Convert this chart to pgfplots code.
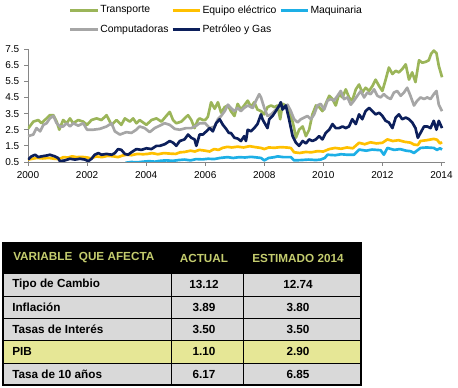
\documentclass[border=0pt]{standalone}
\usepackage{pgfplots}
\pgfplotsset{compat=1.18}
\usepackage{fontspec}
\setmainfont{Liberation Sans}
\definecolor{cTr}{RGB}{155,181,89}
\definecolor{cEq}{RGB}{255,192,0}
\definecolor{cMa}{RGB}{29,175,230}
\definecolor{cCo}{RGB}{166,166,166}
\definecolor{cPe}{RGB}{12,31,91}
\definecolor{axgrey}{RGB}{134,134,134}
\definecolor{hdtext}{RGB}{196,204,110}
\definecolor{rowgrey}{RGB}{217,217,217}
\definecolor{pibrow}{RGB}{230,231,150}
\begin{document}
\begin{tikzpicture}
\path[use as bounding box] (0pt,0pt) rectangle (343.5pt,-291pt);
\begin{axis}[
  at={(21pt,-121.5pt)}, anchor=south west,
  scale only axis, width=312.75pt, height=84.75pt,
  xmin=2000, xmax=2014.12, ymin=0.5, ymax=7.5,
  axis lines=left,
  axis line style={-, draw=axgrey, line width=0.6pt},
  tick align=outside, major tick length=3pt,
  tick style={draw=axgrey, line width=0.6pt},
  xtick={2000,2002,2004,2006,2008,2010,2012,2014},
  xticklabels={2000,2002,2004,2006,2008,2010,2012,2014},
  ytick={0.5,1.5,2.5,3.5,4.5,5.5,6.5,7.5},
  yticklabels={0.5,1.5,2.5,3.5,4.5,5.5,6.5,7.5},
  tick label style={font=\fontsize{7.5}{9}\selectfont},
  xticklabel style={yshift=-0.8pt},
  no markers,
  every axis plot/.append style={line width=2pt, line join=round},
  legend columns=3,
  legend cell align=left,
  legend image code/.code={\draw[#1,line width=2pt] (0pt,0pt) -- (20.5pt,0pt);},
  legend style={draw=none, fill=none, at={(0.088,1.434)}, anchor=north west,
    font=\fontsize{7.8}{9}\selectfont, row sep=3pt,
    /tikz/every odd column/.style={column sep=-1pt},
    /tikz/every even column/.style={column sep=0pt}},
]
\addplot[color=cTr] coordinates {
(2000.00,2.56)(2000.18,3.0)(2000.35,3.1)(2000.46,2.9)(2000.57,3.1)(2000.74,3.4)(2000.86,3.4)(2000.97,3.0)
(2001.06,2.5)(2001.19,3.1)(2001.31,2.9)(2001.42,3.2)(2001.53,2.9)(2001.70,3.1)(2001.87,3.0)(2002.00,2.8)
(2002.15,3.1)(2002.32,3.2)(2002.49,3.1)(2002.66,3.4)(2002.83,2.8)(2003.00,3.1)(2003.16,2.8)(2003.28,3.2)
(2003.45,3.0)(2003.56,3.2)(2003.67,2.9)(2003.78,3.1)(2004.01,2.8)(2004.18,3.1)(2004.35,3.2)(2004.52,3.0)
(2004.68,3.35)(2004.80,3.6)(2004.91,3.1)(2005.02,2.9)(2005.19,3.0)(2005.30,3.2)(2005.42,3.4)(2005.53,3.1)
(2005.64,2.6)(2005.75,3.1)(2005.81,3.2)(2005.92,3.1)(2006.00,3.1)(2006.09,3.3)(2006.20,4.2)(2006.32,3.8)
(2006.43,4.2)(2006.54,3.55)(2006.66,3.9)(2006.77,4.0)(2006.87,3.65)(2006.99,3.35)(2007.10,4.1)(2007.21,3.75)
(2007.32,4.0)(2007.44,4.3)(2007.55,3.9)(2007.66,4.2)(2007.77,3.75)(2007.89,3.65)(2008.00,3.45)(2008.11,3.9)
(2008.23,4.0)(2008.34,3.9)(2008.45,4.0)(2008.54,3.15)(2008.62,4.1)(2008.73,4.0)(2008.84,3.55)(2008.96,3.0)
(2009.01,2.6)(2009.07,2.0)(2009.18,2.5)(2009.30,2.7)(2009.41,2.1)(2009.52,2.5)(2009.63,3.45)(2009.75,4.0)
(2009.86,3.9)(2009.97,3.65)(2010.08,4.1)(2010.20,4.6)(2010.31,4.4)(2010.42,4.0)(2010.53,4.7)(2010.65,4.5)
(2010.76,5.0)(2010.87,4.5)(2010.98,4.3)(2011.10,5.0)(2011.21,5.3)(2011.32,4.8)(2011.43,5.1)(2011.55,4.9)
(2011.66,5.2)(2011.77,5.6)(2011.89,5.2)(2012.00,4.9)(2012.11,5.6)(2012.22,6.35)(2012.34,5.95)(2012.45,6.15)
(2012.56,6.05)(2012.67,6.25)(2012.79,6.55)(2012.90,5.6)(2013.01,6.05)(2013.12,5.45)(2013.24,6.8)(2013.35,6.65)
(2013.46,6.7)(2013.57,6.8)(2013.65,7.2)(2013.74,7.4)(2013.83,7.25)(2013.91,6.45)(2014.02,5.75)
};
\addlegendentry{Transporte}
\addplot[color=cEq] coordinates {
(2000.00,0.65)(2000.15,0.7)(2000.30,0.75)(2000.50,0.72)(2000.70,0.75)(2000.90,0.7)(2001.05,0.68)(2001.20,0.8)
(2001.35,0.78)(2001.50,0.85)(2001.65,0.8)(2001.80,0.82)(2002.00,0.78)(2002.15,0.72)(2002.30,0.85)(2002.50,0.8)
(2002.70,0.88)(2002.90,0.85)(2003.05,0.8)(2003.20,0.9)(2003.35,0.95)(2003.50,0.92)(2003.70,1.0)(2003.90,0.98)
(2004.05,1.0)(2004.20,1.05)(2004.40,0.98)(2004.60,1.05)(2004.80,1.02)(2005.00,1.0)(2005.15,1.1)(2005.30,1.12)
(2005.50,1.2)(2005.65,1.15)(2005.80,1.25)(2006.00,1.2)(2006.15,1.15)(2006.30,1.3)(2006.45,1.25)(2006.60,1.38)
(2006.76,1.44)(2006.90,1.4)(2007.10,1.45)(2007.30,1.4)(2007.50,1.48)(2007.70,1.42)(2007.89,1.37)(2008.00,1.3)
(2008.15,1.4)(2008.35,1.38)(2008.55,1.42)(2008.75,1.4)(2008.90,1.37)(2009.01,1.1)(2009.20,1.06)(2009.40,1.12)
(2009.60,1.1)(2009.80,1.17)(2010.00,1.15)(2010.20,1.3)(2010.40,1.37)(2010.60,1.32)(2010.80,1.4)(2011.00,1.35)
(2011.21,1.69)(2011.40,1.6)(2011.60,1.72)(2011.80,1.65)(2012.00,1.69)(2012.17,1.9)(2012.35,1.8)(2012.55,1.85)
(2012.75,1.75)(2012.95,1.7)(2013.07,1.58)(2013.20,1.55)(2013.29,1.8)(2013.50,1.85)(2013.74,1.93)(2013.85,1.88)
(2013.95,1.65)(2014.02,1.73)
};
\addlegendentry{Equipo eléctrico}
\addplot[color=cMa] coordinates {
(2003.30,0.45)(2003.50,0.5)(2003.70,0.48)(2003.90,0.52)(2004.10,0.55)(2004.30,0.52)(2004.50,0.58)(2004.70,0.6)
(2004.90,0.57)(2005.10,0.62)(2005.30,0.65)(2005.50,0.6)(2005.70,0.68)(2005.90,0.66)(2006.10,0.7)(2006.30,0.68)
(2006.50,0.75)(2006.76,0.8)(2006.95,0.75)(2007.15,0.8)(2007.35,0.78)(2007.55,0.82)(2007.75,0.78)(2007.89,0.75)
(2008.00,0.6)(2008.15,0.75)(2008.35,0.8)(2008.45,0.85)(2008.65,0.8)(2008.90,0.8)(2009.01,0.6)(2009.25,0.62)
(2009.50,0.65)(2009.75,0.62)(2009.91,0.65)(2010.05,0.75)(2010.14,0.95)(2010.40,0.92)(2010.60,0.98)(2010.80,0.95)
(2011.04,0.95)(2011.21,1.27)(2011.45,1.2)(2011.65,1.27)(2011.94,1.23)(2012.05,0.95)(2012.17,1.37)(2012.40,1.25)
(2012.60,1.3)(2012.80,1.2)(2012.95,1.17)(2013.07,1.06)(2013.29,1.37)(2013.50,1.4)(2013.74,1.37)(2013.85,1.25)
(2013.95,1.35)(2014.02,1.27)
};
\addlegendentry{Maquinaria}
\addplot[color=cCo] coordinates {
(2000.00,2.1)(2000.18,2.2)(2000.29,2.6)(2000.41,2.4)(2000.52,2.8)(2000.63,2.9)(2000.74,3.2)(2000.86,3.35)
(2000.97,2.9)(2001.08,2.7)(2001.19,2.7)(2001.31,2.9)(2001.42,2.7)(2001.53,2.9)(2001.70,2.75)(2001.87,2.9)
(2002.00,2.5)(2002.21,2.5)(2002.43,2.55)(2002.66,2.7)(2002.83,2.9)(2002.94,2.4)(2003.11,2.2)(2003.33,2.35)
(2003.50,2.3)(2003.67,2.5)(2003.78,2.7)(2003.95,2.6)(2004.12,2.35)(2004.29,2.6)(2004.46,2.75)(2004.63,2.9)
(2004.80,2.8)(2004.97,2.55)(2005.14,2.5)(2005.36,2.6)(2005.53,2.6)(2005.70,2.75)(2005.81,2.9)(2006.00,2.9)
(2006.15,2.6)(2006.32,2.7)(2006.43,3.15)(2006.54,3.35)(2006.66,3.65)(2006.77,4.05)(2006.87,3.85)(2006.99,3.65)
(2007.10,3.85)(2007.21,3.65)(2007.32,3.85)(2007.44,4.0)(2007.61,3.85)(2007.72,4.3)(2007.83,4.7)(2007.89,4.5)
(2008.00,3.85)(2008.11,3.35)(2008.23,3.45)(2008.34,3.65)(2008.45,3.85)(2008.56,4.0)(2008.68,3.85)(2008.79,4.05)
(2008.90,3.65)(2009.01,3.15)(2009.13,2.95)(2009.24,3.15)(2009.35,3.25)(2009.46,3.35)(2009.58,3.15)(2009.69,3.45)
(2009.80,4.0)(2009.91,4.1)(2010.03,3.75)(2010.14,4.3)(2010.25,4.4)(2010.36,4.3)(2010.48,4.6)(2010.59,4.9)
(2010.70,4.4)(2010.82,4.5)(2010.93,4.05)(2011.04,4.3)(2011.15,4.6)(2011.27,4.9)(2011.38,4.5)(2011.49,4.8)
(2011.60,4.7)(2011.72,5.0)(2011.83,4.6)(2011.94,4.5)(2012.05,4.7)(2012.17,4.5)(2012.28,4.4)(2012.39,4.8)
(2012.50,4.9)(2012.62,4.6)(2012.73,4.8)(2012.84,5.1)(2012.95,4.6)(2013.07,4.0)(2013.18,4.3)(2013.29,4.5)
(2013.41,4.4)(2013.52,4.5)(2013.63,4.4)(2013.74,4.7)(2013.83,4.9)(2013.91,4.05)(2014.02,3.65)
};
\addlegendentry{Computadoras}
\addplot[color=cPe] coordinates {
(2000.00,0.65)(2000.12,0.85)(2000.24,0.95)(2000.35,0.8)(2000.46,0.85)(2000.63,0.9)(2000.74,0.95)(2000.91,0.85)
(2001.02,0.75)(2001.08,0.55)(2001.25,0.6)(2001.42,0.7)(2001.59,0.65)(2001.76,0.7)(2001.93,0.65)(2002.04,0.55)
(2002.15,0.7)(2002.26,0.95)(2002.38,1.05)(2002.49,0.95)(2002.66,1.0)(2002.83,0.95)(2002.94,1.05)(2003.05,1.3)
(2003.16,1.25)(2003.28,1.0)(2003.39,0.95)(2003.50,1.1)(2003.67,1.3)(2003.84,1.25)(2004.01,1.35)(2004.18,1.3)
(2004.35,1.5)(2004.46,1.5)(2004.63,1.6)(2004.80,1.8)(2004.91,1.7)(2005.02,1.5)(2005.14,1.8)(2005.30,1.9)
(2005.42,2.2)(2005.53,2.0)(2005.64,1.9)(2005.70,1.5)(2005.81,2.2)(2005.92,2.2)(2006.04,2.4)(2006.15,2.6)
(2006.26,2.4)(2006.37,2.9)(2006.49,3.15)(2006.60,2.8)(2006.71,2.55)(2006.80,2.3)(2006.87,2.3)(2006.99,2.0)
(2007.10,1.95)(2007.21,1.8)(2007.32,2.1)(2007.38,1.8)(2007.44,2.5)(2007.55,2.4)(2007.66,2.6)(2007.77,2.85)
(2007.89,3.45)(2007.94,3.15)(2008.00,2.95)(2008.11,2.6)(2008.17,3.15)(2008.28,3.35)(2008.39,3.65)(2008.51,4.0)
(2008.56,4.2)(2008.62,3.75)(2008.73,4.0)(2008.84,3.15)(2008.96,2.1)(2009.07,1.7)(2009.18,1.5)(2009.30,1.8)
(2009.41,1.65)(2009.52,1.9)(2009.63,1.8)(2009.75,1.9)(2009.86,2.1)(2009.97,1.9)(2010.08,2.3)(2010.20,2.5)
(2010.31,2.85)(2010.42,2.6)(2010.53,2.6)(2010.65,2.7)(2010.76,2.6)(2010.87,2.7)(2010.98,3.15)(2011.10,2.85)
(2011.21,3.45)(2011.32,3.15)(2011.43,3.65)(2011.55,3.85)(2011.66,3.65)(2011.77,3.45)(2011.89,3.55)(2012.00,3.35)
(2012.11,3.05)(2012.22,2.95)(2012.34,2.6)(2012.45,3.25)(2012.56,3.45)(2012.67,3.15)(2012.79,3.25)(2012.90,3.15)
(2013.01,2.95)(2013.12,2.6)(2013.20,2.0)(2013.29,2.3)(2013.41,2.7)(2013.52,2.7)(2013.63,2.6)(2013.74,3.05)
(2013.83,2.5)(2013.91,3.05)(2014.02,2.6)
};
\addlegendentry{Petróleo y Gas}
\end{axis}
\begin{scope}[x=0.75pt,y=-0.75pt]
\fill[black] (3,243) rectangle (361,273);
\fill[rowgrey] (3,273) rectangle (361,385);
\fill[pibrow] (3,340) rectangle (361,363);
\draw[black,line width=0.7pt] (3,273) -- (361,273) (3,296) -- (361,296) (3,318) -- (361,318)
  (3,340) -- (361,340) (3,363) -- (361,363) (171,273) -- (171,385) (243,273) -- (243,385);
\draw[black,line width=0.9pt] (3,243) rectangle (361,385);
\begin{scope}[every node/.style={inner sep=0pt, font=\fontsize{8.8}{10}\selectfont\bfseries}]
\node[anchor=west, text=hdtext] at (13,258) {VARIABLE\ \ QUE AFECTA};
\node[text=hdtext] at (204,258) {ACTUAL};
\node[text=hdtext] at (298,258) {ESTIMADO 2014};
\node[anchor=west] at (12,284.5) {Tipo de Cambio};
\node[anchor=west] at (12,307) {Inflación};
\node[anchor=west] at (12,329) {Tasas de Interés};
\node[anchor=west] at (12,351.5) {PIB};
\node[anchor=west] at (12,374) {Tasa de 10 años};
\node at (204,284.5) {13.12};
\node at (204,307) {3.89};
\node at (204,329) {3.50};
\node at (204,351.5) {1.10};
\node at (204,374) {6.17};
\node at (298,284.5) {12.74};
\node at (298,307) {3.80};
\node at (298,329) {3.50};
\node at (298,351.5) {2.90};
\node at (298,374) {6.85};
\end{scope}
\end{scope}
\end{tikzpicture}
\end{document}
